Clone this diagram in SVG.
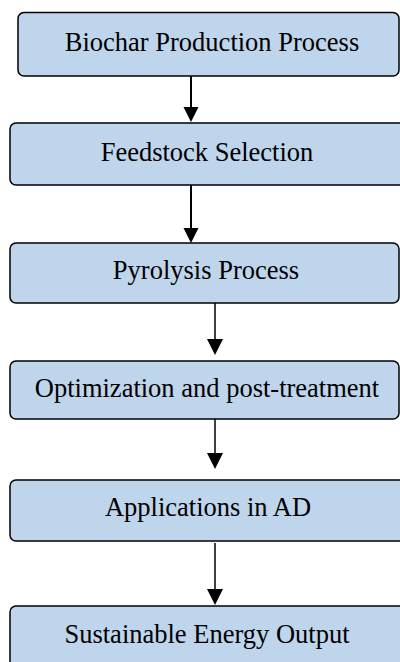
<svg xmlns="http://www.w3.org/2000/svg" width="400" height="662" viewBox="0 0 400 662">
<defs>
<style>
.box{fill:#BED5EB;stroke:#000;stroke-width:1.5}
.lbl{font-family:"Liberation Serif","Times New Roman",serif;font-size:26.5px;fill:#000;text-anchor:middle}
.edge{stroke:#000;fill:none}
.head{fill:#000}
</style>
</defs>
<g id="connectors">
<path class="edge" stroke-width="2" d="M191,76 V108"/>
<path class="head" d="M183.5,107 L198.5,107 L191,122 Z"/>
<path class="edge" stroke-width="2" d="M191,185 V229"/>
<path class="head" d="M183.5,228 L198.5,228 L191,243 Z"/>
<path class="edge" stroke-width="1.5" d="M215,303 V341"/>
<path class="head" d="M207,339 L223,339 L215,355 Z"/>
<path class="edge" stroke-width="1.5" d="M215,415 V455"/>
<path class="head" d="M207,453 L223,453 L215,469 Z"/>
<path class="edge" stroke-width="1.5" d="M215,543 V591"/>
<path class="head" d="M207,589 L223,589 L215,605 Z"/>
</g>
<g id="n1"><rect class="box" x="18" y="12.5" width="381" height="63.5" rx="6"/><text class="lbl" x="212" y="51">Biochar Production Process</text></g>
<g id="n2"><rect class="box" x="10" y="123" width="396" height="62" rx="6"/><text class="lbl" x="207" y="161">Feedstock Selection</text></g>
<g id="n3"><rect class="box" x="10" y="243" width="389" height="60" rx="6"/><text class="lbl" x="206" y="279">Pyrolysis Process</text></g>
<g id="n4"><rect class="box" x="10" y="361" width="389" height="58" rx="6"/><text class="lbl" x="207" y="397">Optimization and post-treatment</text></g>
<g id="n5"><rect class="box" x="10" y="480" width="396" height="61" rx="6"/><text class="lbl" x="208" y="516">Applications in AD</text></g>
<g id="n6"><rect class="box" x="10" y="606" width="400" height="70" rx="6"/><text class="lbl" x="207" y="643">Sustainable Energy Output</text></g>
</svg>
